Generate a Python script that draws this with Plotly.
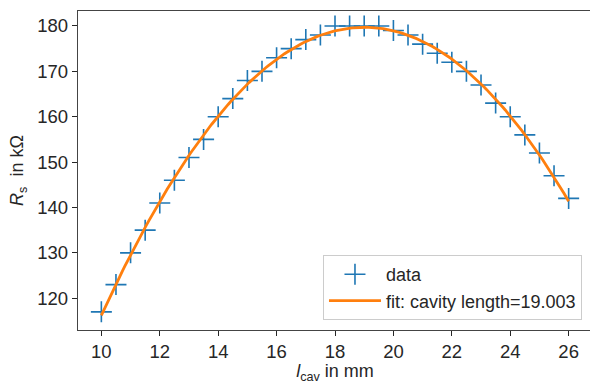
import numpy as np
import plotly.graph_objects as go

# data
l_cav = [10, 10.5, 11, 11.5, 12, 12.5, 13, 13.5, 14, 14.5, 15, 15.5, 16, 16.5,
         17, 17.5, 18, 18.5, 19, 19.5, 20, 20.5, 21, 21.5, 22, 22.5, 23, 23.5,
         24, 24.5, 25, 25.5, 26]
R_s = [117, 123, 130, 135, 141, 146, 151, 155, 160, 164, 168, 170, 173, 175,
       177, 178, 180, 180, 180, 180, 179, 178, 176, 174, 172, 170, 167, 163,
       160, 156, 152, 147, 142]
x_ticks = [10, 12, 14, 16, 18, 20, 22, 24, 26]
y_ticks = [120, 130, 140, 150, 160, 170, 180]
fit_label = "fit: cavity length=19.003"

# quadratic fit of the data (as in the original)
coef = np.polyfit(l_cav, R_s, 2)
x_fit = np.linspace(min(l_cav), max(l_cav), 200)
y_fit = np.polyval(coef, x_fit)

FONT = "Liberation Sans, Arial, sans-serif"
DARK = "#262626"

fig = go.Figure()
fig.add_trace(go.Scatter(
    x=l_cav, y=R_s, mode="markers", name="data",
    marker=dict(symbol="cross-thin-open", size=15,
                line=dict(color="#1f77b4", width=1.6), color="#1f77b4"),
))
fig.add_trace(go.Scatter(
    x=x_fit, y=y_fit, mode="lines", name=fit_label,
    line=dict(color="#ff7f0e", width=2.8),
))

# the original figure is slightly wider than the visible window: its right
# spine is cut off, so the plot is drawn 2px wider and the overflow hidden
fig.update_layout(
    width=592, height=384,
    margin=dict(l=78, r=0, t=11, b=54, autoexpand=False),
    paper_bgcolor="white", plot_bgcolor="white",
    font=dict(family=FONT, size=18, color=DARK),
    showlegend=True,
    legend=dict(
        x=0.9805, y=0.031, xanchor="right", yanchor="bottom",
        bgcolor="rgba(255,255,255,0.8)", bordercolor="#cccccc", borderwidth=1,
        font=dict(size=18, color=DARK), tracegroupgap=0, itemwidth=52,
    ),
)
fig.update_xaxes(
    range=[9.2, 26.8], tickvals=x_ticks, ticks="outside", ticklen=5,
    tickwidth=1.2, tickcolor=DARK, showline=True, linecolor="#444444",
    linewidth=1.3, mirror=True, showgrid=False, zeroline=False,
    automargin=False,
    title=dict(text="<i>l</i><sub>cav</sub> in mm", standoff=4,
               font=dict(size=18)),
    tickfont=dict(size=18.5),
)
fig.update_yaxes(
    range=[113.0, 183.3], tickvals=y_ticks, ticks="outside", ticklen=5,
    tickwidth=1.2, tickcolor=DARK, showline=True, linecolor="#444444",
    linewidth=1.3, mirror=False, showgrid=False, zeroline=False,
    automargin=False,
    title=dict(text="<i>R</i><sub>s</sub>  in kΩ", standoff=8,
               font=dict(size=18)),
    tickfont=dict(size=18.5),
)

fig.write_html(
    "out.html", config={"displayModeBar": False},
    post_script=("document.body.style.margin='0';"
                 "document.body.style.overflow='hidden';"
                 "document.documentElement.style.overflow='hidden';"),
)
